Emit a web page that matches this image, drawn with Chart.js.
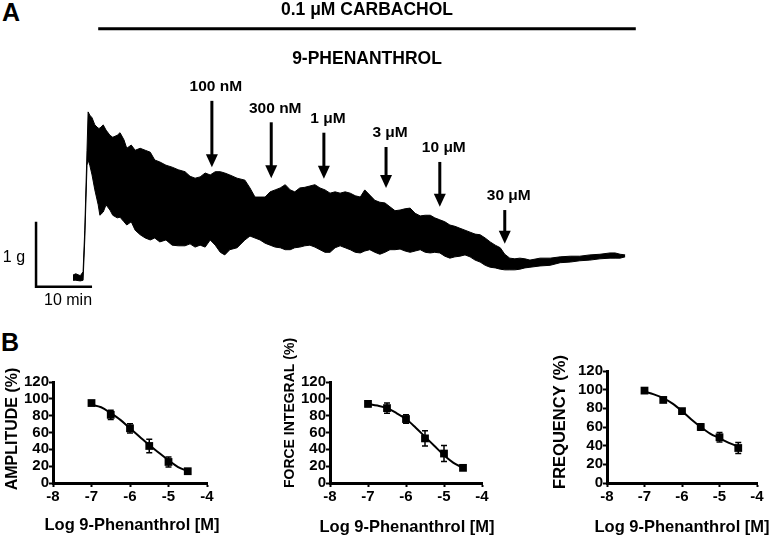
<!DOCTYPE html>
<html><head><meta charset="utf-8">
<script src="https://cdn.jsdelivr.net/npm/chart.js@4.4.1/dist/chart.umd.min.js"></script>
<style>
html,body{margin:0;padding:0;background:#fff;width:771px;height:536px;overflow:hidden;font-family:"Liberation Sans",Arial,sans-serif;}
canvas{position:absolute;}
.lbl{position:absolute;font-weight:bold;font-size:25px;line-height:1;color:#000;}
</style></head><body>
<div class="lbl" style="left:2px;top:0px">A</div>
<div class="lbl" style="left:1px;top:330px">B</div>
<canvas id="trace" width="771" height="320" style="left:0;top:0"></canvas>
<canvas id="amp" width="240" height="206" style="left:0;top:330px"></canvas>
<canvas id="force" width="244" height="206" style="left:276px;top:330px"></canvas>
<canvas id="freq" width="224" height="206" style="left:547px;top:330px"></canvas>
<script>
const FONT = '"Liberation Sans", Arial, sans-serif';
Chart.defaults.font.family = FONT;
Chart.defaults.color = '#000';

// ---------- Panel A: isometric force recording (envelope of the trace) ----------
const traceTime = [
 0, 0.5, 1.3, 1.8, 2.1, 2.5, 2.7, 3.0, 3.4, 3.9,
 4.5, 4.8, 5.4, 5.9, 6.6, 7.1, 7.9, 8.4, 9.1, 9.6,
 10.4, 11.1, 12.0, 12.9, 13.8, 14.6, 15.5, 16.6, 17.7, 18.8,
 20.0, 20.9, 21.8, 22.7, 23.6, 24.5, 25.4, 26.3, 27.1, 28.0,
 29.3, 30.7, 31.6, 32.5, 33.4, 34.3, 35.2, 36.1, 37.0, 37.9,
 38.8, 39.6, 40.5, 41.4, 42.3, 43.2, 44.1, 45.0, 45.9, 46.8,
 47.7, 48.6, 49.5, 50.4, 51.3, 52.1, 53.0, 53.9, 54.8, 55.7,
 56.6, 57.5, 58.4, 59.3, 60.2, 61.1, 62.0, 62.9, 63.8, 64.6,
 65.5, 66.4, 67.3, 68.2, 69.1, 70.0, 70.9, 71.8, 72.7, 73.6,
 74.5, 75.4, 76.3, 77.1, 78.0, 78.9, 79.8, 80.7, 81.6, 83.4,
 85.2, 87.0, 88.8, 90.5, 92.3, 94.1, 95.9, 96.8, 97.7, 98.6
];
const traceUpper = [
 0.03, 0.05, 0.02, 0.08, 0.72, 1.95, 2.54, 2.49, 2.45, 2.34,
 2.29, 2.29, 2.34, 2.26, 2.18, 2.15, 2.18, 2.22, 2.11, 1.98,
 2.03, 1.95, 1.98, 1.95, 1.92, 1.80, 1.77, 1.72, 1.69, 1.65,
 1.62, 1.55, 1.52, 1.54, 1.60, 1.57, 1.62, 1.62, 1.60, 1.57,
 1.52, 1.49, 1.37, 1.23, 1.23, 1.23, 1.31, 1.34, 1.37, 1.42,
 1.34, 1.31, 1.37, 1.38, 1.40, 1.42, 1.37, 1.34, 1.29, 1.31,
 1.29, 1.31, 1.29, 1.25, 1.23, 1.34, 1.26, 1.18, 1.15, 1.14,
 1.08, 1.02, 1.03, 1.05, 1.06, 0.98, 0.94, 0.95, 0.95, 0.91,
 0.88, 0.85, 0.80, 0.78, 0.75, 0.72, 0.69, 0.66, 0.65, 0.60,
 0.54, 0.49, 0.45, 0.35, 0.29, 0.28, 0.29, 0.28, 0.26, 0.29,
 0.29, 0.31, 0.32, 0.32, 0.34, 0.35, 0.37, 0.37, 0.35, 0.34
];
const traceLower = [
 -0.05, -0.05, -0.06, -0.05, 0.57, 1.72, 1.80, 1.72, 1.57, 1.34,
 1.11, 0.95, 1.00, 1.11, 1.03, 0.95, 0.91, 0.92, 0.85, 0.80,
 0.85, 0.72, 0.65, 0.60, 0.57, 0.60, 0.54, 0.57, 0.49, 0.48,
 0.48, 0.51, 0.46, 0.49, 0.46, 0.57, 0.49, 0.38, 0.34, 0.42,
 0.45, 0.57, 0.63, 0.60, 0.57, 0.52, 0.49, 0.46, 0.45, 0.42,
 0.42, 0.45, 0.46, 0.48, 0.49, 0.46, 0.42, 0.38, 0.38, 0.45,
 0.48, 0.45, 0.42, 0.38, 0.37, 0.40, 0.42, 0.38, 0.35, 0.38,
 0.42, 0.42, 0.43, 0.40, 0.38, 0.40, 0.42, 0.38, 0.37, 0.38,
 0.37, 0.32, 0.29, 0.31, 0.32, 0.34, 0.31, 0.26, 0.23, 0.18,
 0.15, 0.14, 0.12, 0.11, 0.11, 0.11, 0.12, 0.14, 0.15, 0.17,
 0.18, 0.22, 0.23, 0.25, 0.26, 0.28, 0.29, 0.29, 0.29, 0.31
];
// 9-phenanthrol additions
const additionLabels = ['100 nM', '300 nM', '1 \u03bcM', '3 \u03bcM', '10 \u03bcM', '30 \u03bcM'];
const additionTimes  = [24.8, 35.4, 44.8, 55.9, 65.5, 77.1];
const arrowTop = [2.71, 2.38, 2.22, 2.00, 1.77, 1.03];
const arrowTip = [1.69, 1.52, 1.51, 1.37, 1.08, 0.51];
const carbacholLabel = '0.1 \u03bcM CARBACHOL';
const drugLabel = '9-PHENANTHROL';
const carbacholBar = [4.5, 100.5];
const carbacholBarLevel = 3.82;
const scaleBarOrigin = [-6.6, -0.15];
const scaleBarMinutes = 10;
const scaleBarGrams = 1;

const traceAnnotations = {
  id: 'traceAnnotations',
  afterDraw(chart) {
    const {ctx, scales: {x, y}} = chart;
    ctx.save();
    ctx.fillStyle = '#000'; ctx.strokeStyle = '#000';
    const bx1 = x.getPixelForValue(carbacholBar[0]), bx2 = x.getPixelForValue(carbacholBar[1]);
    const by = y.getPixelForValue(carbacholBarLevel);
    ctx.lineWidth = 3;
    ctx.beginPath(); ctx.moveTo(bx1, by); ctx.lineTo(bx2, by); ctx.stroke();
    ctx.font = 'bold 17.5px ' + FONT; ctx.textAlign = 'center'; ctx.textBaseline = 'middle';
    const cx = (bx1 + bx2) / 2;
    ctx.fillText(carbacholLabel, cx, by - 19);
    ctx.fillText(drugLabel, cx, by + 30);
    ctx.font = 'bold 15.5px ' + FONT;
    additionTimes.forEach((t, i) => {
      const px = x.getPixelForValue(t);
      const top = y.getPixelForValue(arrowTop[i]);
      const tip = y.getPixelForValue(arrowTip[i]);
      ctx.lineWidth = 3;
      ctx.beginPath(); ctx.moveTo(px, top); ctx.lineTo(px, tip - 10); ctx.stroke();
      ctx.beginPath(); ctx.moveTo(px - 6, tip - 13); ctx.lineTo(px + 6, tip - 13); ctx.lineTo(px, tip); ctx.closePath(); ctx.fill();
      ctx.fillText(additionLabels[i], px + 4, top - 14);
    });
    const sx0 = x.getPixelForValue(scaleBarOrigin[0]), sy0 = y.getPixelForValue(scaleBarOrigin[1]);
    const sx1 = x.getPixelForValue(scaleBarOrigin[0] + scaleBarMinutes);
    const sy1 = y.getPixelForValue(scaleBarOrigin[1] + scaleBarGrams);
    ctx.lineWidth = 2.5;
    ctx.beginPath(); ctx.moveTo(sx0, sy1); ctx.lineTo(sx0, sy0); ctx.lineTo(sx1, sy0); ctx.stroke();
    ctx.font = '16px ' + FONT;
    ctx.textAlign = 'right'; ctx.fillText(scaleBarGrams + ' g', sx0 - 11, (sy0 + sy1) / 2 + 3);
    ctx.textAlign = 'center'; ctx.fillText(scaleBarMinutes + ' min', (sx0 + sx1) / 2 + 4, sy0 + 14);
    ctx.restore();
  }
};

new Chart(document.getElementById('trace'), {
  type: 'line',
  data: {
    datasets: [
      { data: traceTime.map((t, i) => ({x: t, y: traceLower[i]})), borderColor: '#000', borderWidth: 1, pointRadius: 0, fill: false },
      { data: traceTime.map((t, i) => ({x: t, y: traceUpper[i]})), borderColor: '#000', borderWidth: 1, pointRadius: 0, fill: '-1', backgroundColor: '#000' }
    ]
  },
  options: {
    responsive: false, animation: false, devicePixelRatio: 1,
    layout: { padding: { left: 5.8, right: 126.8, top: 69, bottom: 4 } },
    plugins: { legend: { display: false }, tooltip: { enabled: false } },
    scales: {
      x: { type: 'linear', min: -12, max: 102, display: false },
      y: { type: 'linear', min: -0.6, max: 3.2, display: false }
    }
  },
  plugins: [traceAnnotations]
});

// ---------- Panel B: concentration-response curves ----------
const doses = [-7, -6.5, -6, -5.5, -5, -4.5];
const fitDoses = [-7, -6.75, -6.5, -6.25, -6, -5.75, -5.5, -5.25, -5, -4.75, -4.5];

const amplitudeMean = [95, 81, 65, 44, 25, 14];
const amplitudeSem  = [1.5, 5.5, 5.5, 8, 6, 2];
const amplitudeFit  = [93, 90, 83, 75, 65, 55, 45, 36, 27, 19, 14];

const forceMean = [94, 89, 76, 53, 35, 18];
const forceSem  = [3, 6, 5, 9, 9.5, 2];
const forceFit  = [94, 92, 89, 83, 76, 66, 55, 44, 33, 24, 18];

const freqMean = [99, 89, 77, 60, 49, 37.5];
const freqSem  = [1.5, 2.5, 2, 3.5, 5, 6];
const freqFit  = [98, 95, 91, 85, 77, 68, 60, 53, 48, 43, 39];

const xTitle = 'Log 9-Phenanthrol [M]';

const errorBars = {
  id: 'errorBars',
  afterDatasetsDraw(chart) {
    const {ctx, scales: {x, y}} = chart;
    ctx.save();
    ctx.strokeStyle = '#000'; ctx.lineWidth = 1.5;
    chart.data.datasets.forEach(ds => {
      if (!ds.errors) return;
      ds.data.forEach((p, i) => {
        const e = ds.errors[i];
        const px = x.getPixelForValue(p.x);
        const y1 = y.getPixelForValue(p.y + e), y2 = y.getPixelForValue(p.y - e);
        ctx.beginPath();
        ctx.moveTo(px, y1); ctx.lineTo(px, y2);
        ctx.moveTo(px - 3, y1); ctx.lineTo(px + 3, y1);
        ctx.moveTo(px - 3, y2); ctx.lineTo(px + 3, y2);
        ctx.stroke();
      });
    });
    ctx.restore();
  }
};

// axis titles drawn without the width clamp Chart.js applies to scale titles
const axisTitles = {
  id: 'axisTitles',
  afterDraw(chart, args, o) {
    const {ctx, chartArea: a} = chart;
    ctx.save();
    ctx.fillStyle = '#000'; ctx.textAlign = 'center'; ctx.textBaseline = 'middle';
    ctx.font = 'bold 16.5px ' + FONT;
    ctx.fillText(o.xText, (a.left + a.right) / 2 + o.xdx, chart.height - o.xBottom);
    ctx.translate(o.yx, (a.top + a.bottom) / 2 + o.ydy);
    ctx.rotate(-Math.PI / 2);
    ctx.font = 'bold ' + o.ySize + 'px ' + FONT;
    ctx.fillText(o.yText, 0, 0);
    ctx.restore();
  }
};

function doseChart(id, o) {
  return new Chart(document.getElementById(id), {
    type: 'line',
    data: {
      datasets: [
        { data: fitDoses.map((d, i) => ({x: d, y: o.fit[i]})), borderColor: '#000', borderWidth: 2, pointRadius: 0,
          tension: 0.4, cubicInterpolationMode: 'monotone', fill: false },
        { data: doses.map((d, i) => ({x: d, y: o.mean[i]})), errors: o.sem, showLine: false,
          pointStyle: 'rect', pointRadius: 5.5, pointBackgroundColor: '#000', pointBorderColor: '#000', pointBorderWidth: 0 }
      ]
    },
    options: {
      responsive: false, animation: false, devicePixelRatio: 1,
      layout: { padding: { left: 0, right: o.padRight, top: o.padTop, bottom: 0 } },
      plugins: {
        legend: { display: false }, tooltip: { enabled: false },
        axisTitles: { xText: xTitle, yText: o.yTitle, ySize: o.yTitleSize, xdx: o.xdx, xBottom: o.xBottom, yx: o.yx, ydy: o.ydy }
      },
      scales: {
        x: {
          type: 'linear', min: -8, max: -4,
          ticks: { stepSize: 1, autoSkip: false, font: { size: 15, weight: 'bold' }, color: '#000', padding: 1 },
          grid: { drawOnChartArea: false, drawTicks: true, tickLength: 4, tickWidth: 2, tickColor: '#000' },
          border: { display: true, color: '#000', width: 3 },
          afterFit(s) { s.height = 53; }
        },
        y: {
          type: 'linear', min: 0, max: 120,
          ticks: { stepSize: 20, autoSkip: false, font: { size: 15, weight: 'bold' }, color: '#000', padding: 0 },
          grid: { drawOnChartArea: false, drawTicks: true, tickLength: 4, tickWidth: 2, tickColor: '#000' },
          border: { display: true, color: '#000', width: 3 },
          afterFit(s) { s.width = o.yWidth; }
        }
      }
    },
    plugins: [errorBars, axisTitles]
  });
}

doseChart('amp',   { mean: amplitudeMean, sem: amplitudeSem, fit: amplitudeFit, yTitle: 'AMPLITUDE (%)', yTitleSize: 16,
                     yWidth: 53, padTop: 52, padRight: 33, xdx: 2, xBottom: 11, yx: 13, ydy: -3.5 });
doseChart('force', { mean: forceMean, sem: forceSem, fit: forceFit, yTitle: 'FORCE INTEGRAL (%)', yTitleSize: 14,
                     yWidth: 54, padTop: 52, padRight: 38, xdx: 1, xBottom: 9, yx: 14, ydy: -19.5 });
doseChart('freq',  { mean: freqMean, sem: freqSem, fit: freqFit, yTitle: 'FREQUENCY (%)', yTitleSize: 16.5,
                     yWidth: 60, padTop: 41, padRight: 14, xdx: 0, xBottom: 9, yx: 13, ydy: -5 });
</script>
</body></html>
